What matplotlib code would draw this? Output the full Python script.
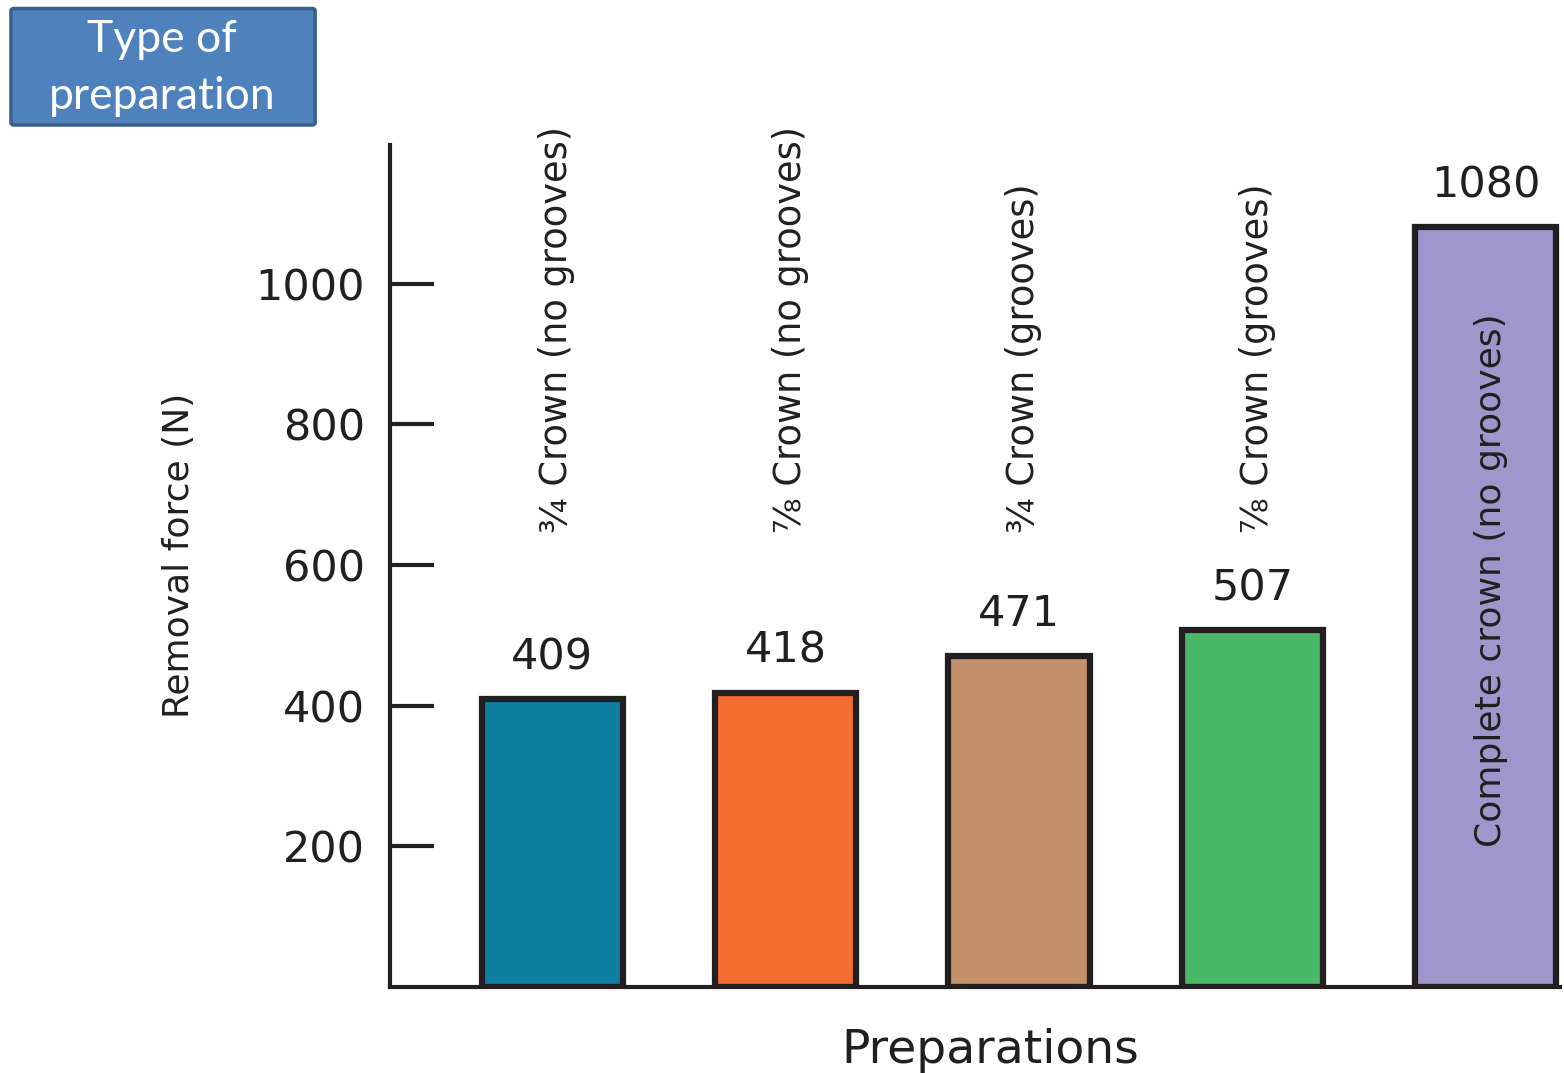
import matplotlib.pyplot as plt
from matplotlib.patches import FancyBboxPatch

# Removal force per preparation type (N)
preparations = [
    "\u00be Crown (no grooves)",
    "\u215e Crown (no grooves)",
    "\u00be Crown (grooves)",
    "\u215e Crown (grooves)",
    "Complete crown (no grooves)",
]
forces = [409, 418, 471, 507, 1080]
bar_colors = ["#0E7FA0", "#F36F31", "#C4906A", "#49B868", "#9F97CB"]
y_ticks = [200, 400, 600, 800, 1000]

ink = "#231F20"


def main():
    fig = plt.figure(figsize=(15.64, 10.73), dpi=100)
    ax = fig.add_axes([0.2494, 0.0801, 0.748, 0.7848])

    x = range(len(forces))
    bars = ax.bar(x, forces, width=0.604, color=bar_colors,
                  edgecolor=ink, linewidth=4.5, zorder=2)

    ax.set_xlim(-0.694, 4.317)
    ax.set_ylim(0, 1197)

    for side in ["top", "right"]:
        ax.spines[side].set_visible(False)
    for side in ["left", "bottom"]:
        ax.spines[side].set_linewidth(3)
        ax.spines[side].set_color(ink)

    ax.set_xticks([])
    ax.set_yticks(y_ticks)
    ax.tick_params(axis="y", direction="in", length=32, width=3,
                   color=ink, labelsize=31, labelcolor=ink, pad=18)

    # value labels above bars
    for bar, val in zip(bars, forces):
        ax.text(bar.get_x() + bar.get_width() / 2.0, bar.get_height() + 30,
                f"{val}", ha="center", va="bottom", fontsize=31, color=ink)

    # rotated category labels
    for i, name in enumerate(preparations[:-1]):
        ax.text(i + 0.02, 645, name, rotation=90, ha="center", va="bottom",
                fontsize=26.5, color=ink)
    ax.text(4.02, 578, preparations[-1], rotation=90, ha="center",
            va="center", fontsize=26, color=ink)

    ax.set_ylabel("Removal force (N)", fontsize=26, color=ink, va="center")
    ax.yaxis.set_label_coords(-0.18, 0.513)
    ax.set_xlabel("Preparations", fontsize=34, color=ink, va="center")
    ax.xaxis.set_label_coords(0.513, -0.075)

    # title box in the top-left corner
    box = FancyBboxPatch((0.0070, 0.8835), 0.1945, 0.1086,
                         boxstyle="round,pad=0,rounding_size=0.002",
                         transform=fig.transFigure, facecolor="#4F81BD",
                         edgecolor="#3A5F8B", linewidth=2.5)
    fig.patches.append(box)
    fig.text(0.1036, 0.9366, "Type of\npreparation", ha="center", va="center",
             fontsize=32, color="white", family=["Lato", "DejaVu Sans"],
             linespacing=1.5)

    fig.savefig("out.png", dpi=100)
    plt.close(fig)


if __name__ == "__main__":
    main()
